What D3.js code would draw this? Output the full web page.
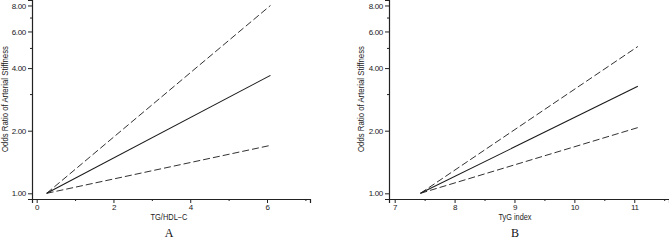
<!DOCTYPE html>
<html>
<head>
<meta charset="utf-8">
<script src="https://cdn.jsdelivr.net/npm/d3@7"></script>
<style>
  body { margin: 0; background: #fff; }
  svg { display: block; }
</style>
</head>
<body>
<div id="chart"></div>
<script>
// Odds ratio of arterial stiffness vs TG/HDL-C (A) and TyG index (B)
const yMajor = [1, 2, 4, 6, 8];
const yMinor = [3, 5, 7];
const yLabel = 'Odds Ratio of Arterial Stiffness';

// panel A
const xA = [0.26, 6.09];
const estA = [1.00, 3.69];
const upA = [1.00, 8.00];
const lowA = [1.00, 1.70];
const xTicksA = [0, 2, 4, 6];
const xMinorA = [1, 3, 5, 7];

// panel B
const xB = [7.43, 11.06];
const estB = [1.00, 3.27];
const upB = [1.00, 5.08];
const lowB = [1.00, 2.07];
const xTicksB = [7, 8, 9, 10, 11];
const xMinorB = [7.5, 8.5, 9.5, 10.5, 11.5];

const W = 669, H = 240;
const font = '"Liberation Sans", Arial, sans-serif';

const svg = d3.select('#chart').append('svg')
  .attr('width', W).attr('height', H);

function panel(opt) {
  const g = svg.append('g').attr('transform', `translate(${opt.left},0)`);

  const x = d3.scaleLinear().domain(opt.xDomain).range([0, opt.width]);
  const y = d3.scaleLog().domain([0.939, 8.5]).range([199, 0]);

  // y axis
  g.append('g')
    .call(d3.axisLeft(y).tickValues(yMajor).tickFormat(d3.format('.2f')).tickSize(4).tickPadding(2));
  const yMin = g.append('g')
    .call(d3.axisLeft(y).tickValues(yMinor).tickFormat('').tickSize(2));
  yMin.select('.domain').remove();

  // x axis
  g.append('g')
    .attr('transform', 'translate(0,199)')
    .call(d3.axisBottom(x).tickValues(opt.xTicks).tickFormat(d3.format('d')).tickSize(4).tickPadding(1));
  const xMin = g.append('g')
    .attr('transform', 'translate(0,199)')
    .call(d3.axisBottom(x).tickValues(opt.xMinor).tickFormat('').tickSize(2));
  xMin.select('.domain').remove();

  g.selectAll('.domain').attr('stroke', '#222').attr('stroke-width', 1.2);
  g.selectAll('.tick line').attr('stroke', '#222');
  g.selectAll('.tick text')
    .attr('fill', '#222')
    .style('font-family', font)
    .style('font-size', '8px')
    .style('letter-spacing', '-0.3px');

  // y label
  g.append('text')
    .attr('transform', `translate(${opt.yLabelX},99) rotate(-90)`)
    .attr('text-anchor', 'middle')
    .attr('dy', '0.35em')
    .attr('fill', '#222')
    .attr('textLength', 106)
    .attr('lengthAdjust', 'spacingAndGlyphs')
    .style('font-family', font)
    .style('font-size', '8.5px')
    .text(yLabel);

  // x label
  g.append('text')
    .attr('x', opt.xLabelX)
    .attr('y', 220)
    .attr('text-anchor', 'middle')
    .attr('fill', '#222')
    .attr('textLength', opt.xLabelLen)
    .attr('lengthAdjust', 'spacingAndGlyphs')
    .style('font-family', font)
    .style('font-size', '8.5px')
    .text(opt.xLabel);

  // panel letter
  g.append('text')
    .attr('x', opt.xLabelX)
    .attr('y', 237)
    .attr('text-anchor', 'middle')
    .attr('fill', '#111')
    .style('font-family', '"Liberation Serif", serif')
    .style('font-size', '12px')
    .text(opt.letter);

  const line = d3.line()
    .x(d => x(d.x))
    .y(d => y(d.v));

  const series = [
    {vals: opt.up, dash: '7,3', w: 0.9},
    {vals: opt.low, dash: '7,3', w: 0.9},
    {vals: opt.est, dash: null, w: 1.1}
  ];
  series.forEach(s => {
    g.append('path')
      .datum(opt.xs.map((xv, i) => ({x: xv, v: s.vals[i]})))
      .attr('fill', 'none')
      .attr('stroke', '#1a1a1a')
      .attr('stroke-width', s.w)
      .attr('stroke-dasharray', s.dash)
      .attr('d', line);
  });
}

panel({
  left: 32, width: 278, xDomain: [-0.122, 7.12],
  xTicks: xTicksA, xMinor: xMinorA,
  xs: xA, est: estA, up: upA, low: lowA,
  yLabelX: -27, xLabelX: 137, xLabel: 'TG/HDL\u2212C', xLabelLen: 37, letter: 'A'
});

panel({
  left: 389, width: 280, xDomain: [6.905, 11.58],
  xTicks: xTicksB, xMinor: xMinorB,
  xs: xB, est: estB, up: upB, low: lowB,
  yLabelX: -28, xLabelX: 126, xLabel: 'TyG index', xLabelLen: 33, letter: 'B'
});
</script>
</body>
</html>
